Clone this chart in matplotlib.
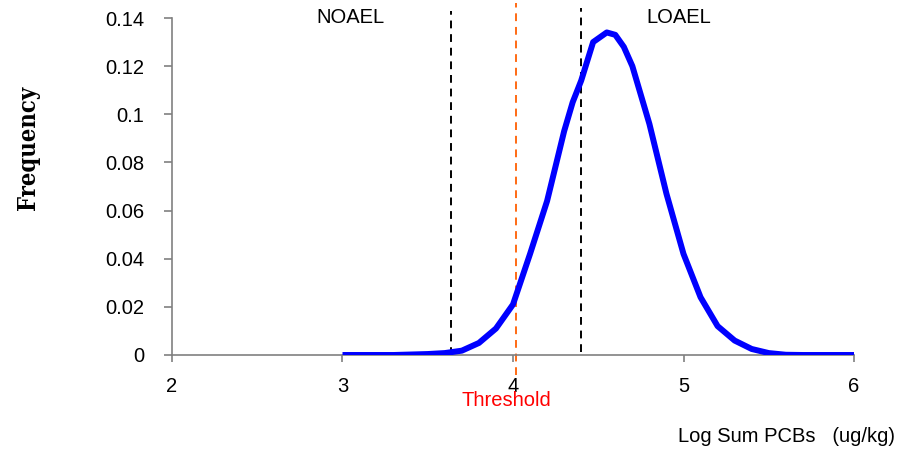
import matplotlib
matplotlib.use("Agg")
import matplotlib.pyplot as plt

# Data
log_pcbs = [3.0, 3.1, 3.2, 3.3, 3.4, 3.5, 3.6, 3.7, 3.8, 3.9, 4.0, 4.1, 4.2, 4.3,
            4.35, 4.4, 4.47, 4.55, 4.6, 4.65, 4.7, 4.8, 4.9, 5.0, 5.1, 5.2, 5.3,
            5.4, 5.5, 5.6, 5.7, 5.8, 5.9, 6.0]
frequency = [0.0, 0.0, 0.0, 0.0, 0.0002, 0.0004, 0.0008, 0.0018, 0.005, 0.011,
             0.021, 0.042, 0.064, 0.093, 0.105, 0.114, 0.130, 0.134, 0.133,
             0.128, 0.120, 0.096, 0.067, 0.042, 0.024, 0.012, 0.006, 0.0025,
             0.0008, 0.0001, 0.0, 0.0, 0.0, 0.0]
noael = 3.636
threshold = 4.018
loael = 4.40
x_ticks = [2, 3, 4, 5, 6]
y_ticks = [0, 0.02, 0.04, 0.06, 0.08, 0.1, 0.12, 0.14]
y_tick_labels = ["0", "0.02", "0.04", "0.06", "0.08", "0.1", "0.12", "0.14"]

plt.rcParams['font.family'] = ['Liberation Sans', 'DejaVu Sans']
FS = 14.5

fig = plt.figure(figsize=(8.99, 4.53), dpi=100)
ax = fig.add_axes([172/899, 1-355/453, (854-172)/899, (355-18)/453])

ax.plot(log_pcbs, frequency, color='#0000FF', lw=4.3, solid_joinstyle='round',
        solid_capstyle='butt', zorder=3)

ax.set_xlim(2, 6)
ax.set_ylim(0, 0.14)

ax.axvline(noael, ymin=0.0, ymax=1.02, color='black', lw=1.4,
           ls=(0, (4, 3)), clip_on=False, zorder=2)
ax.axvline(loael, ymin=0.01, ymax=1.03, color='black', lw=1.4,
           ls=(0, (4, 3)), clip_on=False, zorder=2)
ax.axvline(threshold, ymin=-0.06, ymax=1.045, color='#FF6A13', lw=1.4,
           ls=(0, (4, 3)), clip_on=False, zorder=2)

for s in ['top', 'right']:
    ax.spines[s].set_visible(False)
for s in ['left', 'bottom']:
    ax.spines[s].set_color('#808080')
    ax.spines[s].set_linewidth(1.2)

ax.set_xticks(x_ticks)
ax.set_xticklabels([str(t) for t in x_ticks])
ax.set_yticks(y_ticks)
ax.set_yticklabels(y_tick_labels)
ax.tick_params(axis='both', colors='#808080', labelcolor='black', labelsize=FS,
               width=1.2)
ax.tick_params(axis='y', length=6, direction='out', pad=14)
ax.tick_params(axis='x', length=5, direction='out', pad=11)

ax.text(3.044, 0.1404, "NOAEL", ha='center', va='center', fontsize=FS,
        clip_on=False)
ax.text(4.97, 0.1404, "LOAEL", ha='center', va='center', fontsize=FS,
        clip_on=False)
fig.text(506/899, 1-400/453, "Threshold", color='#FF0000', ha='center',
         va='center', fontsize=FS)
fig.text(895/899, 1-437/453, "Log Sum PCBs   (ug/kg)", ha='right', va='center',
         fontsize=FS)
fig.text(28/899, 1-148/453, "Frequency", rotation=90, ha='center', va='center',
         fontsize=17, fontweight='bold', family=['DejaVu Serif'],
         fontstretch='condensed')

fig.savefig("out.png", dpi=100)
